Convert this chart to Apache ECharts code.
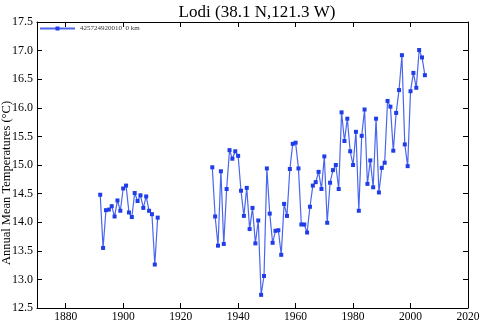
<!DOCTYPE html>
<html>
<head>
<meta charset="utf-8">
<title>Lodi</title>
<script src="https://cdn.jsdelivr.net/npm/echarts@6/dist/echarts.min.js"></script>
<style>
  html, body { margin: 0; padding: 0; background: #fff; }
  #main { width: 480px; height: 321px; }
</style>
</head>
<body>
<div id="main"></div>
<script>
// station record
var years = [
  1892, 1893, 1894, 1895, 1896, 1897, 1898, 1899, 1900, 1901,
  1902, 1903, 1904, 1905, 1906, 1907, 1908, 1909, 1910, 1911, 1912,
  1920,
  1931, 1932, 1933, 1934, 1935, 1936, 1937, 1938, 1939, 1940,
  1941, 1942, 1943, 1944, 1945, 1946, 1947, 1948, 1949, 1950,
  1951, 1952, 1953, 1954, 1955, 1956, 1957, 1958, 1959, 1960,
  1961, 1962, 1963, 1964, 1965, 1966, 1967, 1968, 1969, 1970,
  1971, 1972, 1973, 1974, 1975, 1976, 1977, 1978, 1979, 1980,
  1981, 1982, 1983, 1984, 1985, 1986, 1987, 1988, 1989, 1990,
  1991, 1992, 1993, 1994, 1995, 1996, 1997, 1998, 1999, 2000,
  2001, 2002, 2003, 2004, 2005
];
var temps = [
  14.48, 13.55, 14.21, 14.22, 14.28, 14.10, 14.38, 14.20, 14.59, 14.64,
  14.17, 14.09, 14.51, 14.37, 14.47, 14.25, 14.45, 14.20, 14.14, 13.26, 14.08,
  null,
  14.96, 14.10, 13.59, 14.89, 13.62, 14.58, 15.26, 15.11, 15.24, 15.16,
  14.55, 14.11, 14.60, 13.88, 14.25, 13.63, 14.03, 12.73, 13.06, 14.94,
  14.15, 13.64, 13.85, 13.86, 13.43, 14.32, 14.11, 14.93, 15.37, 15.39,
  14.94, 13.96, 13.96, 13.82, 14.27, 14.64, 14.70, 14.88, 14.58, 15.15,
  13.99, 14.69, 14.91, 15.00, 14.58, 15.92, 15.42, 15.81, 15.24, 15.00,
  15.58, 14.20, 15.51, 15.97, 14.67, 15.08, 14.61, 15.81, 14.52, 14.95,
  15.04, 16.12, 16.02, 15.25, 15.91, 16.31, 16.92, 15.36, 14.98, 16.29,
  16.61, 16.35, 17.01, 16.88, 16.57
];
var xTicks = [1880, 1900, 1920, 1940, 1960, 1980, 2000, 2020];
var seriesName = '425724920010  0 km';

var points = [];
for (var i = 0; i < years.length; i++) {
  points.push([years[i], temps[i] === null ? '-' : temps[i]]);
}

var serif = '"Liberation Serif", "DejaVu Serif", serif';
var tickStyle = { show: true, inside: true, length: 5, lineStyle: { color: '#000' } };

var option = {
  animation: false,
  title: {
    text: 'Lodi (38.1 N,121.3 W)',
    left: 252, top: -1, textAlign: 'center',
    textStyle: { fontFamily: serif, fontSize: 17, fontWeight: 'normal', color: '#000' }
  },
  legend: {
    left: 34, top: 20,
    itemWidth: 35, itemHeight: 5, itemGap: 4,
    data: [seriesName],
    textStyle: { fontFamily: serif, fontSize: 7, color: '#333' }
  },
  grid: { left: 37, right: 12, top: 22, bottom: 13, outerBoundsMode: 'none', containLabel: false },
  xAxis: [{
    type: 'value', min: 1870, max: 2020,
    axisLine: { show: true, lineStyle: { color: '#000' } },
    axisTick: { show: true, inside: true, length: 5, lineStyle: { color: '#000' }, customValues: xTicks },
    axisLabel: {
      customValues: xTicks, fontFamily: serif, fontSize: 11.5, color: '#000', margin: 3,
      formatter: function (v) { return String(v); }
    },
    splitLine: { show: false }
  }, {
    type: 'value', min: 1870, max: 2020, position: 'top',
    axisLine: { show: true, lineStyle: { color: '#000' } },
    axisTick: { show: true, inside: true, length: 5, lineStyle: { color: '#000' }, customValues: xTicks },
    axisLabel: { show: false },
    splitLine: { show: false }
  }],
  yAxis: [{
    type: 'value', min: 12.5, max: 17.5, interval: 0.5,
    name: 'Annual Mean Temperatures (\u00B0C)',
    nameLocation: 'middle', nameGap: 24, nameMoveOverlap: false,
    nameTextStyle: { fontFamily: serif, fontSize: 12.5, color: '#000', padding: [0, 36, 0, 0] },
    axisLine: { show: true, lineStyle: { color: '#000' } },
    axisTick: tickStyle,
    axisLabel: {
      fontFamily: serif, fontSize: 12, color: '#000', margin: 4,
      formatter: function (v) { return v.toFixed(1); }
    },
    splitLine: { show: false }
  }, {
    type: 'value', min: 12.5, max: 17.5, interval: 0.5, position: 'right',
    axisLine: { show: true, lineStyle: { color: '#000' } },
    axisTick: tickStyle,
    axisLabel: { show: false },
    splitLine: { show: false }
  }],
  series: [{
    name: seriesName,
    type: 'line',
    data: points,
    connectNulls: false,
    symbol: 'rect',
    symbolSize: 4,
    itemStyle: { color: '#1f3de8' },
    lineStyle: { color: '#4a66ee', width: 1.2 }
  }]
};

var chart = echarts.init(document.getElementById('main'));
chart.setOption(option);
</script>
</body>
</html>
